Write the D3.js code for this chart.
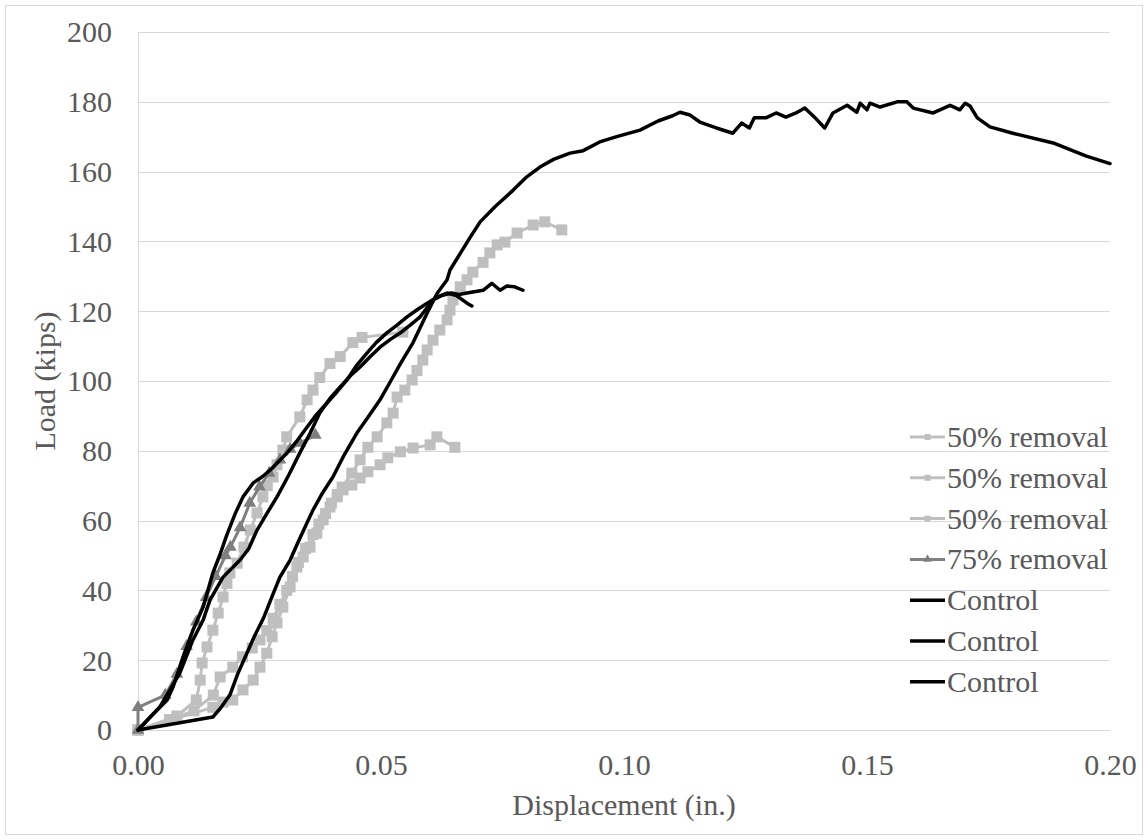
<!DOCTYPE html>
<html>
<head>
<meta charset="utf-8">
<script src="https://cdnjs.cloudflare.com/ajax/libs/d3/7.8.5/d3.min.js"></script>
<style>
    body { margin: 0; background: #fff; }
    #chart text { font-family: "Liberation Serif", "DejaVu Serif", "Times New Roman", Tinos, serif; fill: #595959; }
</style>
</head>
<body>
<div id="chart"></div>
<script>
// series: [displacement (in.), load (kips)]
var removal50a = [[0,0],[0.0154,6.5],[0.0175,8],[0.0195,8.6],[0.0216,11.5],[0.0237,14.3],[0.0251,18],[0.0265,22],[0.0276,26.7],[0.0286,30.7],[0.0298,35.2],[0.0313,41],[0.0327,46.7],[0.034,49.6],[0.0354,52.4],[0.0368,56.4],[0.0381,60.2],[0.0395,63.9],[0.041,66.8],[0.042,69.6],[0.044,73.6],[0.0457,77.4],[0.0473,81],[0.0492,84],[0.0512,88],[0.0525,90.8],[0.0533,95.4],[0.0549,97.4],[0.0564,100.3],[0.0574,103],[0.0586,106],[0.0595,108.9],[0.0607,111.7],[0.0621,114.6],[0.0636,117.5],[0.0642,120.3],[0.0648,123.2],[0.0663,127],[0.0677,129],[0.0689,131.2],[0.071,134],[0.0724,136.7],[0.0739,139],[0.0755,139.8],[0.078,142.4],[0.0813,144.7],[0.0837,145.6],[0.0872,143.3]];
var removal50b = [[0,0],[0.0065,3],[0.0115,5.5],[0.0155,10],[0.0169,15.2],[0.0195,18],[0.0215,21],[0.0235,23.5],[0.0251,25.8],[0.0265,28.5],[0.0278,32],[0.0292,36],[0.0306,40],[0.0318,44],[0.033,48],[0.0345,52],[0.036,56],[0.0372,59],[0.0386,62],[0.0398,65],[0.041,67.5],[0.0422,68.8],[0.044,70.2],[0.0457,72.2],[0.0473,74],[0.0498,76],[0.0514,78],[0.054,79.7],[0.0566,80.8],[0.0601,81.7],[0.0615,84],[0.0652,81]];
var removal50c = [[0,0],[0.008,4],[0.012,8.6],[0.0128,14.3],[0.0132,19.2],[0.0142,23.8],[0.0154,28.6],[0.0165,33.5],[0.0175,38.1],[0.0183,42],[0.0189,45],[0.0204,47.8],[0.0218,52.4],[0.0231,57.3],[0.0245,62.2],[0.0257,66.8],[0.0266,70],[0.0278,72.5],[0.0286,76],[0.0298,80.2],[0.0306,84],[0.0333,89.7],[0.0348,94.6],[0.036,97.4],[0.0374,101],[0.0395,105],[0.0416,107],[0.0442,111],[0.0461,112.5],[0.0545,114]];
var removal75 = [[0,0],[0,6.5],[0.0056,10],[0.008,16],[0.010,24],[0.012,31],[0.014,38],[0.016,44],[0.018,50],[0.019,52.4],[0.021,58],[0.023,65],[0.025,69.7],[0.027,73.6],[0.0292,77.4],[0.0313,80.5],[0.0333,82.2],[0.0365,84.5]];
var controlA = [[0,0],[0.0154,3.7],[0.017,6.3],[0.0189,10],[0.0205,16],[0.0224,22],[0.024,27],[0.0258,32],[0.0278,39],[0.0292,43.8],[0.0313,48.7],[0.033,54],[0.0345,58.5],[0.036,63],[0.038,68],[0.0401,72.5],[0.0425,79],[0.045,85],[0.0475,90],[0.0498,94.6],[0.052,100],[0.054,105],[0.0566,111],[0.0595,119.5],[0.0615,125],[0.0636,129],[0.0642,131.8],[0.0665,137],[0.0685,141.5],[0.0704,145.6],[0.0735,150],[0.0772,154.7],[0.080,158.5],[0.0827,161.3],[0.0855,163.5],[0.0889,165.3],[0.0916,166],[0.095,168.5],[0.0985,170],[0.1033,171.9],[0.107,174.5],[0.110,176],[0.1115,177],[0.1136,176.2],[0.1156,174.2],[0.119,172.5],[0.1224,171],[0.1242,173.9],[0.1258,172.5],[0.1268,175.4],[0.1292,175.4],[0.1313,176.8],[0.1333,175.6],[0.1354,176.8],[0.1372,178.2],[0.1392,175.6],[0.1413,172.5],[0.1430,176.8],[0.1459,179],[0.1479,177],[0.1486,179.6],[0.150,177.7],[0.1506,179.6],[0.1527,178.5],[0.1562,180],[0.1582,180],[0.1595,178.2],[0.1636,176.8],[0.1671,179],[0.1691,177.7],[0.1702,179.6],[0.1712,178.8],[0.1727,175.4],[0.1753,172.8],[0.180,171],[0.1883,168.2],[0.195,164.5],[0.2,162.3]];
var controlB = [[0,0],[0.0025,3.7],[0.006,8.6],[0.0072,12.3],[0.0093,21],[0.0113,28.6],[0.0134,35.2],[0.0154,45],[0.0168,50],[0.0183,56],[0.020,62],[0.0216,66.8],[0.0237,70.8],[0.0255,72.5],[0.0272,74.5],[0.029,77],[0.0307,79.4],[0.0328,83],[0.0348,86.8],[0.0368,90.5],[0.0389,93.7],[0.041,97],[0.043,100.3],[0.045,104.5],[0.0471,108],[0.049,111],[0.0512,113.8],[0.0533,116],[0.0553,118.3],[0.0575,120.5],[0.0595,122.3],[0.0615,124],[0.0636,125.2],[0.0655,124.5],[0.0677,122.3],[0.0687,121.5]];
var controlC = [[0,0],[0.0045,6.6],[0.0086,16.3],[0.0113,25.8],[0.0134,31.5],[0.0148,37.2],[0.0175,43.8],[0.021,48.7],[0.0228,52],[0.0245,57.3],[0.0265,62],[0.0286,66.8],[0.031,73],[0.0333,79.4],[0.0354,85],[0.0374,90.8],[0.0395,95],[0.0416,98.3],[0.0437,101.5],[0.0457,104],[0.0478,107],[0.0498,109.7],[0.052,112],[0.054,113.8],[0.056,116],[0.058,118.3],[0.0607,123.2],[0.0625,124.5],[0.0645,125.2],[0.066,124.8],[0.0677,125.2],[0.071,126],[0.0728,128],[0.0745,126],[0.0759,127.2],[0.0775,127],[0.0792,126]];

var seriesNames = ["50% removal", "50% removal", "50% removal", "75% removal", "Control", "Control", "Control"];
var seriesData = [removal50a, removal50b, removal50c, removal75, controlA, controlB, controlC];
var seriesColors = ["#bfbfbf", "#bfbfbf", "#bfbfbf", "#7f7f7f", "#000000", "#000000", "#000000"];
var seriesMarkers = ["square", "square", "square", "triangle", "none", "none", "none"];

var xTicks = [0, 0.05, 0.10, 0.15, 0.20];
var yTicks = [0, 20, 40, 60, 80, 100, 120, 140, 160, 180, 200];

var width = 1148, height = 840;
var margin = {left: 138, right: 38, top: 32, bottom: 110};
var fontFamily = '"Liberation Serif", "DejaVu Serif", "Times New Roman", Tinos, serif';

var svg = d3.select("#chart").append("svg")
    .attr("width", width)
    .attr("height", height);

svg.append("rect")
    .attr("x", 5.5).attr("y", 5.5)
    .attr("width", width - 11).attr("height", height - 11)
    .attr("fill", "#fff")
    .attr("stroke", "#d9d9d9");

var x = d3.scaleLinear().domain([0, 0.2]).range([margin.left, width - margin.right]);
var y = d3.scaleLinear().domain([0, 200]).range([height - margin.bottom, margin.top]);

// gridlines
svg.append("g").selectAll("line")
    .data(yTicks.slice(1))
    .enter().append("line")
    .attr("x1", x(0)).attr("x2", x(0.2))
    .attr("y1", function (d) { return Math.round(y(d)) + 0.5; })
    .attr("y2", function (d) { return Math.round(y(d)) + 0.5; })
    .attr("stroke", "#d9d9d9")
    .attr("stroke-width", 1);

// axis lines
svg.append("line")
    .attr("x1", x(0) + 0.5).attr("x2", x(0) + 0.5)
    .attr("y1", y(200)).attr("y2", y(0))
    .attr("stroke", "#d9d9d9");
svg.append("line")
    .attr("x1", x(0)).attr("x2", x(0.2))
    .attr("y1", Math.round(y(0)) + 0.5).attr("y2", Math.round(y(0)) + 0.5)
    .attr("stroke", "#d9d9d9");

// tick labels
var yAxis = d3.axisLeft(y).tickValues(yTicks).tickSize(0).tickPadding(26).tickFormat(d3.format("d"));
var gy = svg.append("g").attr("transform", "translate(" + x(0) + ",0)").call(yAxis);
gy.attr("font-family", null);
gy.select(".domain").remove();
gy.selectAll("text").style("font-size", "30px").style("font-family", fontFamily).attr("dy", "0.33em");

var xAxis = d3.axisBottom(x).tickValues(xTicks).tickSize(0).tickPadding(24).tickFormat(d3.format(".2f"));
var gx = svg.append("g").attr("transform", "translate(0," + y(0) + ")").call(xAxis);
gx.attr("font-family", null);
gx.select(".domain").remove();
gx.selectAll("text").style("font-size", "30px").style("font-family", fontFamily);

// axis titles
svg.append("text")
    .attr("x", (x(0) + x(0.2)) / 2)
    .attr("y", 815)
    .attr("text-anchor", "middle")
    .style("font-size", "30px")
    .style("font-family", fontFamily)
    .text("Displacement (in.)");

svg.append("text")
    .attr("transform", "translate(55," + ((y(0) + y(200)) / 2) + ") rotate(-90)")
    .attr("text-anchor", "middle")
    .style("font-size", "30px")
    .style("font-family", fontFamily)
    .text("Load (kips)");

// series
var line = d3.line()
    .x(function (d) { return x(d[0]); })
    .y(function (d) { return y(d[1]); });

var plot = svg.append("g");
var triangle = d3.symbol().type(d3.symbolTriangle);

seriesData.forEach(function (data, i) {
    var black = seriesColors[i] === "#000000";
    plot.append("path")
        .datum(data)
        .attr("d", line)
        .attr("fill", "none")
        .attr("stroke", seriesColors[i])
        .attr("stroke-width", black ? 3.5 : 3)
        .attr("stroke-linejoin", "round")
        .attr("stroke-linecap", "round");

    if (seriesMarkers[i] === "square") {
        plot.append("g").selectAll("rect")
            .data(data)
            .enter().append("rect")
            .attr("x", function (d) { return x(d[0]) - 5.5; })
            .attr("y", function (d) { return y(d[1]) - 5.5; })
            .attr("width", 11).attr("height", 11)
            .attr("fill", seriesColors[i]);
    } else if (seriesMarkers[i] === "triangle") {
        plot.append("g").selectAll("path")
            .data(data)
            .enter().append("path")
            .attr("d", triangle.size(70))
            .attr("transform", function (d) { return "translate(" + x(d[0]) + "," + y(d[1]) + ")"; })
            .attr("fill", seriesColors[i]);
    }
});

// legend
var legend = svg.append("g").attr("transform", "translate(910,437)");
seriesNames.forEach(function (name, i) {
    var row = legend.append("g").attr("transform", "translate(0," + (i * 40.8) + ")");
    var black = seriesColors[i] === "#000000";
    row.append("line")
        .attr("x1", 0).attr("x2", 35)
        .attr("stroke", seriesColors[i])
        .attr("stroke-width", black ? 3.5 : 3);
    if (seriesMarkers[i] === "square") {
        row.append("rect").attr("x", 14.5).attr("y", -3).attr("width", 6).attr("height", 6).attr("fill", seriesColors[i]);
    } else if (seriesMarkers[i] === "triangle") {
        row.append("path").attr("d", triangle.size(30)).attr("transform", "translate(17.5,0)").attr("fill", seriesColors[i]);
    }
    row.append("text")
        .attr("x", 37)
        .attr("y", 10)
        .style("font-size", "30px")
        .style("font-family", fontFamily)
        .text(name);
});
</script>
</body>
</html>
